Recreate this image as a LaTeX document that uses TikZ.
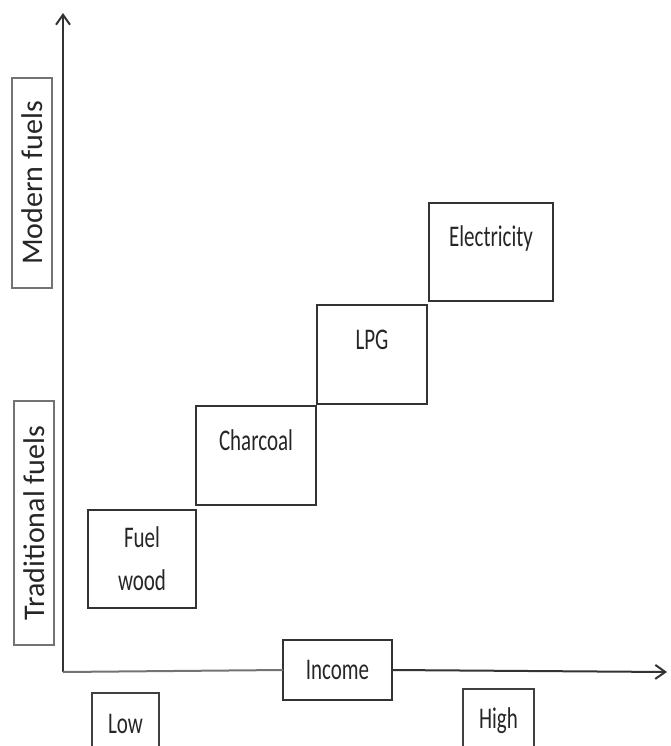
\documentclass[tikz,border=0pt]{standalone}
\usepackage{fontspec}
\setmainfont{Carlito}
\newfontfamily\narrowfont{Carlito}[FakeStretch=0.7]
\usetikzlibrary{
  positioning,
  arrows.meta
}
\tikzset{
  >={Straight Barb[length=3mm,width=4.2mm]},
  x=0.3mm, y=-0.3mm,
  axis/.style={line width=0.6mm, draw=black!80},
  fuel/.style={draw=black!80, line width=0.7mm, inner sep=0pt, outer sep=0pt, text=black!85,
    font=\narrowfont\fontsize{25.6}{36.7}\selectfont},
  top text/.style={text height=13.2mm, text depth=16.5mm},
  side/.style={draw=black!55, line width=0.4mm, rotate=90, inner sep=0pt,
    minimum height=12mm, text=black!85, font=\fontsize{25.6}{30}\selectfont},
  level/.style={draw=black!75, line width=0.45mm, inner sep=0pt, text=black!85,
    text height=12.2mm, text depth=9mm, font=\narrowfont\fontsize{25.6}{30}\selectfont}
}
\begin{document}
\begin{tikzpicture}
    \useasboundingbox (0,0) rectangle (671,746);
    \clip (0,0) rectangle (671,746);
    \coordinate (o) at (63,672);
    \coordinate (ytip) at (63,13);
    \coordinate (xtip) at (667,672);
    % fuel ladder
    \node[fuel, minimum width=32.4mm, minimum height=29.4mm, align=center] (wood) at (142,559) {Fuel\\wood};
    \node[fuel, top text, minimum width=36mm, above right=1.5mm and 0mm of wood] (charcoal) {Charcoal};
    \node[fuel, top text, minimum width=33mm, above right=0.6mm and 0.3mm of charcoal] (lpg) {LPG};
    \node[fuel, top text, text height=12.9mm, minimum width=37.2mm, above right=1.2mm and 0.6mm of lpg] (elec) {Electricity};
    % axes
    \node[fuel, minimum width=32.7mm, minimum height=18mm] (income) at (337.5,670) {Income};
    \draw[axis, ->] (o) -- (ytip);
    \draw[axis, draw=black!55] (o) -- (income.west);
    \draw[axis, ->] (income.east) -- (xtip);
    \node[side, minimum width=63mm] (modern) at (32,183) {Modern fuels};
    \node[side, minimum width=73.2mm] (trad) at (34,523) {Traditional fuels};
    \node[level, minimum width=20.1mm, anchor=north] (low) at (125.5,692) {Low};
    \node[level, minimum width=21.3mm, anchor=north, text height=12mm] (high) at (498.5,688) {High};
\end{tikzpicture}
\end{document}
